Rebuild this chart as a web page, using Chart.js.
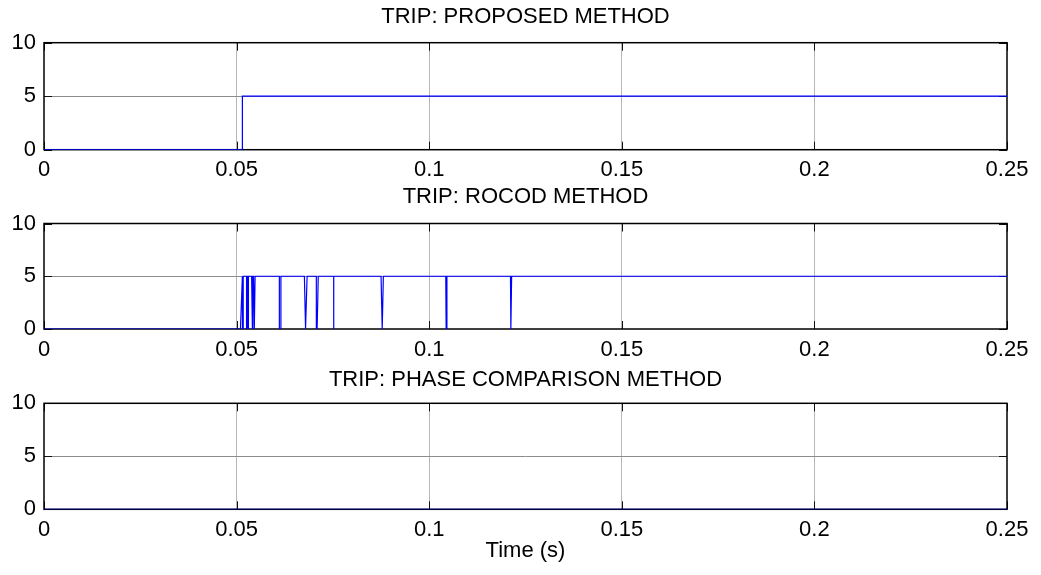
<!DOCTYPE html>
<html>
<head>
<meta charset="utf-8">
<script src="https://cdn.jsdelivr.net/npm/chart.js@4.4.1/dist/chart.umd.min.js"></script>
<style>
  html, body { margin: 0; padding: 0; background: #fff; }
  #wrap { position: relative; width: 1041px; height: 575px; overflow: hidden; background: #fff; }
  canvas { position: absolute; left: 0; }
</style>
</head>
<body>
<div id="wrap">
  <canvas id="c1" width="1041" height="180" style="top:0px"></canvas>
  <canvas id="c2" width="1041" height="180" style="top:180px"></canvas>
  <canvas id="c3" width="1041" height="215" style="top:360px"></canvas>
</div>
<script>
// Axis ranges and tick steps
const timeMin = 0, timeMax = 0.25, timeStep = 0.05;
const tripMin = 0, tripMax = 10, tripStep = 5;

// Trip signal of the proposed method: single step after the fault
const proposedT = [0, 0.0515, 0.0515, 0.25];
const proposedV = [0, 0, 5, 5];

// Trip signal of the ROCOD method: chattering after the fault
const rocodT = [
  0, 0.0510, 0.0515,
  0.05154, 0.05154, 0.05172, 0.05172,
  0.05258, 0.05258, 0.05276, 0.05276,
  0.05302, 0.05302, 0.05310, 0.05310,
  0.0539, 0.0541, 0.0542,
  0.0544, 0.0546, 0.0548,
  0.0611, 0.0611, 0.0615, 0.0615,
  0.0676, 0.0679, 0.0683,
  0.0707, 0.0707, 0.0709, 0.0712,
  0.0752, 0.07521, 0.07522,
  0.0875, 0.0878, 0.0881,
  0.1043, 0.1044, 0.1046,
  0.1211, 0.1212, 0.1214,
  0.25
];
const rocodV = [
  0, 0, 5,
  5, 0, 0, 5,
  5, 0, 0, 5,
  5, 0, 0, 5,
  5, 0, 5,
  5, 0, 5,
  5, 0, 0, 5,
  5, 0, 5,
  5, 0, 0, 5,
  5, 0, 5,
  5, 0, 5,
  5, 0, 5,
  5, 0, 5,
  5
];

// Trip signal of the phase comparison method: never trips
const phaseT = [0, 0.25];
const phaseV = [0, 0];

const FONT = "'Liberation Sans', Arial, Helvetica, sans-serif";
const FSIZE = 22;
const TICK_LEN = 8;

Chart.defaults.font.family = FONT;
Chart.defaults.font.size = FSIZE;
Chart.defaults.color = '#000';

// Box around the plot area plus inward-pointing tick marks on all four sides
const framePlugin = {
  id: 'frame',
  beforeDatasetsDraw(chart) {
    const { ctx, chartArea: a, scales: { x, y } } = chart;
    ctx.save();
    ctx.strokeStyle = '#111';
    ctx.lineWidth = 1;
    ctx.beginPath();
    x.ticks.forEach(t => {
      const px = Math.round(x.getPixelForValue(t.value)) + 0.5;
      ctx.moveTo(px, a.bottom); ctx.lineTo(px, a.bottom - TICK_LEN);
      ctx.moveTo(px, a.top); ctx.lineTo(px, a.top + TICK_LEN);
    });
    y.ticks.forEach(t => {
      const py = Math.round(y.getPixelForValue(t.value)) + 0.5;
      ctx.moveTo(a.left, py); ctx.lineTo(a.left + TICK_LEN, py);
      ctx.moveTo(a.right, py); ctx.lineTo(a.right - TICK_LEN, py);
    });
    ctx.stroke();
    ctx.strokeStyle = '#000';
    ctx.lineWidth = 1.5;
    ctx.strokeRect(a.left, a.top, a.right - a.left, a.bottom - a.top);
    ctx.restore();
  }
};

function toPoints(T, V) {
  return T.map((t, i) => ({ x: t, y: V[i] }));
}

function makeChart(id, titleText, T, V, cfg) {
  const canvas = document.getElementById(id);
  const H = canvas.height;
  return new Chart(canvas, {
    type: 'line',
    data: {
      datasets: [{
        data: toPoints(T, V),
        borderColor: '#0000ff',
        borderWidth: 1.2,
        pointRadius: 0,
        tension: 0,
        fill: false
      }]
    },
    options: {
      responsive: false,
      animation: false,
      devicePixelRatio: 1,
      layout: { padding: { left: 0, right: 34, top: 0, bottom: 0 } },
      plugins: {
        legend: { display: false },
        tooltip: { enabled: false },
        title: {
          display: true,
          fullSize: false,
          text: titleText,
          color: '#000',
          font: { family: FONT, size: FSIZE, weight: 'normal' },
          padding: cfg.titlePad
        }
      },
      scales: {
        x: {
          type: 'linear',
          min: timeMin,
          max: timeMax,
          border: { display: false },
          grid: {
            drawTicks: false,
            lineWidth: 1,
            color: c => (c.tick && c.tick.value > timeMin + 1e-9 && c.tick.value < timeMax - 1e-9) ? '#b8b8b8' : 'rgba(0,0,0,0)'
          },
          ticks: {
            stepSize: timeStep,
            padding: cfg.xTickPad,
            maxRotation: 0,
            autoSkip: false,
            color: '#000',
            callback: v => String(+Number(v).toFixed(2))
          },
          title: cfg.xTitle || { display: false },
          afterFit: s => { s.height = H - cfg.areaBottom; }
        },
        y: {
          min: tripMin,
          max: tripMax,
          border: { display: false },
          grid: {
            drawTicks: false,
            lineWidth: 1,
            color: c => (c.tick && c.tick.value > tripMin && c.tick.value < tripMax) ? '#8c8c8c' : 'rgba(0,0,0,0)'
          },
          ticks: {
            stepSize: tripStep,
            padding: 8,
            color: '#000'
          },
          afterFit: s => { s.width = 44; }
        }
      }
    },
    plugins: [framePlugin]
  });
}

makeChart('c1', 'TRIP: PROPOSED METHOD', proposedT, proposedV, {
  titlePad: { top: 3.4, bottom: 12.9 },
  xTickPad: 7.5,
  areaBottom: 149.7
});

makeChart('c2', 'TRIP: ROCOD METHOD', rocodT, rocodV, {
  titlePad: { top: 3.8, bottom: 13.3 },
  xTickPad: 7.5,
  areaBottom: 149
});

makeChart('c3', 'TRIP: PHASE COMPARISON METHOD', phaseT, phaseV, {
  titlePad: { top: 6.8, bottom: 10.1 },
  xTickPad: 7.5,
  areaBottom: 149.3,
  xTitle: {
    display: true,
    text: 'Time (s)',
    color: '#000',
    font: { family: FONT, size: FSIZE, weight: 'normal' },
    padding: { top: 0, bottom: 10.8 }
  }
});
</script>
</body>
</html>
